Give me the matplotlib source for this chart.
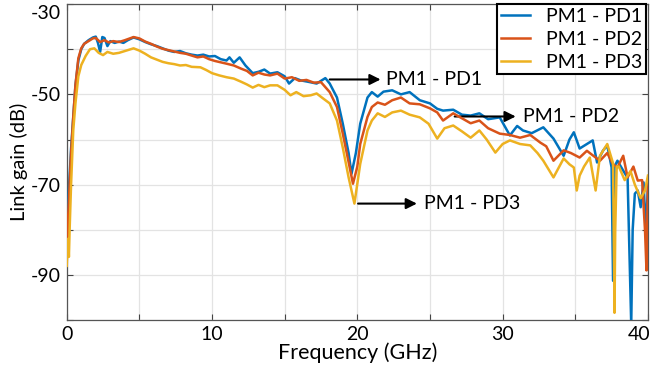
import matplotlib
matplotlib.use("Agg")
from matplotlib import pyplot as plt
from matplotlib.transforms import ScaledTranslation

plt.rcParams['font.family'] = ['Lato', 'DejaVu Sans']
plt.rcParams['axes.unicode_minus'] = False

# measured link gain, PM1 to each photodiode
freq_pd1 = [0.0, 0.05, 0.1, 0.2, 0.3, 0.45, 0.6, 0.8, 1.0, 1.2, 1.5, 1.8, 2.0, 2.15, 2.3, 2.45, 2.6, 2.8, 3.0, 3.3,
            3.6, 3.9, 4.2, 4.6, 5.0, 5.4, 5.8, 6.2, 6.6, 7.0, 7.4, 7.8, 8.2, 8.6, 9.0, 9.4, 9.8, 10.2, 10.6, 11.0,
            11.2, 11.5, 11.9, 12.3, 12.8, 13.2, 13.6, 14.0, 14.5, 15.0, 15.3, 15.7, 16.1, 16.6, 17.2, 17.8, 18.1, 18.6,
            19.0, 19.4, 19.6, 19.9, 20.2, 20.7, 21.0, 21.4, 21.8, 22.4, 23.0, 23.6, 24.3, 25.0, 25.5, 25.9, 26.6, 27.2,
            27.8, 28.4, 29.0, 29.8, 30.5, 31.0, 31.4, 32.0, 32.8, 33.5, 34.2, 34.6, 34.9, 35.3, 35.8, 36.2, 36.5, 36.9,
            37.2, 37.5, 37.6, 37.7, 37.9, 38.3, 38.6, 38.85, 38.95, 39.1, 39.3, 39.5, 39.7, 39.85, 40.0]
gain_pd1 = [-86, -82, -74, -68, -62, -55, -48, -42.5, -40.0, -38.8, -38.0, -37.4, -37.2, -38.6, -40.6, -37.3, -37.5, -39.3, -38.2, -38.6,
            -38.3, -38.6, -38.0, -37.4, -37.8, -38.4, -38.9, -39.3, -39.8, -40.3, -40.6, -40.4, -40.9, -41.2, -41.4, -41.2, -41.6, -41.5, -42.2, -42.5,
            -41.8, -43.0, -41.8, -43.6, -45.3, -45.0, -44.5, -45.4, -45.1, -46.0, -47.6, -46.4, -46.9, -47.2, -47.6, -46.4, -47.6, -50.7,
            -56.5, -63.0, -67.6, -63.0, -56.5, -50.7, -49.5, -50.5, -49.4, -49.1, -50.0, -49.5, -51.3, -52.0, -53.2, -53.6, -53.4, -54.5,
            -54.7, -54.2, -55.5, -55.1, -59.1, -57.0, -58.0, -58.6, -57.3, -59.8, -63.6, -60.0, -58.4, -62.0, -61.0, -60.2, -65.1, -62.5,
            -61.3, -66.2, -91.3, -66.0, -64.7, -66.9, -68.5, -101, -80, -72.0, -71.3, -75.0, -69.5, -80.0, -70.7]

freq_pd2 = [0.0, 0.05, 0.1, 0.2, 0.3, 0.45, 0.6, 0.8, 1.0, 1.2, 1.5, 1.8, 2.0, 2.3, 2.6, 2.9, 3.2, 3.6, 4.0, 4.6,
            5.0, 5.4, 5.8, 6.2, 6.6, 7.0, 7.4, 7.8, 8.2, 8.6, 9.0, 9.4, 9.8, 10.2, 10.6, 11.0, 11.5, 12.0, 12.4, 12.8,
            13.2, 13.6, 14.0, 14.5, 15.0, 15.5, 16.0, 16.5, 17.0, 17.5, 18.1, 18.6, 19.0, 19.4, 19.7, 20.0, 20.2, 20.7,
            21.0, 21.4, 21.9, 22.4, 23.0, 23.6, 24.3, 25.0, 25.5, 25.9, 26.6, 27.2, 27.8, 28.4, 29.0, 29.8, 30.5, 31.2,
            31.9, 32.6, 33.0, 33.5, 34.2, 34.7, 35.3, 35.8, 36.2, 36.7, 37.2, 37.6, 37.9, 38.3, 38.6, 39.0, 39.3, 39.6,
            39.8, 39.9, 40.0]
gain_pd2 = [-87, -83, -77, -70, -63, -55, -48, -42.0, -39.8, -38.8, -38.2, -37.6, -37.5, -38.4, -38.0, -38.5, -38.2, -38.4, -38.0, -37.3,
            -37.6, -38.3, -38.8, -39.4, -39.9, -40.2, -40.5, -40.8, -41.0, -41.4, -41.8, -41.6, -42.2, -42.6, -42.9, -43.2, -43.6, -44.3, -44.8, -45.8,
            -45.2, -45.6, -45.8, -45.4, -46.5, -46.2, -47.0, -46.8, -47.4, -47.3, -49.5, -52.8, -58.7, -65.0, -69.8, -66.0, -61.0, -55.0,
            -52.8, -51.8, -52.3, -51.3, -50.7, -52.0, -52.2, -53.1, -54.0, -55.8, -54.2, -55.3, -56.4, -55.8, -57.5, -58.7, -59.0, -59.6,
            -59.0, -60.7, -61.5, -64.7, -62.4, -63.0, -64.0, -62.5, -63.5, -64.7, -63.0, -65.5, -66.2, -63.6, -68.4, -66.0, -69.1, -69.0,
            -80.2, -89.0, -69.0]

freq_pd3 = [0.0, 0.05, 0.1, 0.15, 0.2, 0.3, 0.45, 0.6, 0.8, 1.0, 1.3, 1.6, 1.9, 2.2, 2.5, 2.8, 3.2, 3.6, 4.0, 4.6,
            5.0, 5.4, 5.8, 6.2, 6.6, 7.0, 7.4, 7.8, 8.2, 8.6, 9.2, 9.6, 10.0, 10.5, 11.0, 11.5, 12.0, 12.4, 12.8, 13.2,
            13.6, 14.0, 14.5, 15.0, 15.4, 15.8, 16.3, 16.8, 17.2, 17.6, 18.1, 18.6, 19.0, 19.4, 19.8, 20.2, 20.7, 21.0,
            21.4, 21.9, 22.4, 23.0, 23.6, 24.3, 24.9, 25.5, 26.0, 26.6, 27.2, 27.8, 28.4, 28.9, 29.5, 30.0, 30.5, 31.2,
            31.9, 32.4, 32.8, 33.5, 34.2, 34.6, 34.9, 35.1, 35.3, 35.6, 36.0, 36.4, 36.7, 37.2, 37.6, 37.7, 37.75, 37.85,
            38.0, 38.4, 38.8, 39.1, 39.5, 39.8, 40.0]
gain_pd3 = [-88, -84, -82, -86, -80, -70, -58, -52, -46, -43.5, -41.5, -40.0, -39.8, -40.8, -41.3, -40.6, -41.0, -40.8, -40.4, -39.8,
            -40.3, -41.0, -41.8, -42.3, -42.8, -43.1, -43.3, -43.6, -43.5, -43.9, -44.0, -44.6, -45.3, -45.8, -46.2, -46.5, -47.2, -47.8, -48.5, -47.9,
            -48.4, -48.0, -48.0, -49.0, -50.2, -49.5, -50.4, -50.2, -49.8, -50.8, -52.0, -55.8, -61.8, -68.4, -74.2, -65.4, -58.0, -55.8,
            -54.2, -55.0, -54.0, -53.6, -54.5, -55.1, -56.5, -59.8, -57.5, -56.9, -58.2, -59.6, -58.0, -60.0, -62.9, -61.0, -60.2, -61.0,
            -61.3, -63.0, -64.7, -68.4, -64.2, -65.5, -66.2, -71.3, -68.0, -66.0, -64.0, -71.3, -63.6, -61.0, -65.3, -98.4, -80.0, -66.0,
            -66.0, -69.0, -67.0, -70.0, -73.0, -71.3, -68.0]

labels = ["PM1 - PD1", "PM1 - PD2", "PM1 - PD3"]
colors = ["#0072BD", "#D95319", "#EDB120"]

fig = plt.figure(figsize=(6.56, 3.73), dpi=100)
ax = fig.add_axes([0.1017, 0.142, 0.886, 0.847])

ax.plot(freq_pd1, gain_pd1, color=colors[0], lw=1.8, label=labels[0], zorder=3)
ax.plot(freq_pd2, gain_pd2, color=colors[1], lw=1.8, label=labels[1], zorder=4)
ax.plot(freq_pd3, gain_pd3, color=colors[2], lw=1.8, label=labels[2], zorder=5)

ax.set_xlim(0, 40)
ax.set_ylim(-100, -30)
ax.set_xticks(range(0, 41, 5))
ax.set_xticklabels(["0", "", "10", "", "20", "", "30", "", "40"])
ax.set_yticks(range(-100, -29, 10))
ax.set_yticklabels(["", "-90", "", "-70", "", "-50", "", "-30"])
ax.grid(True, color="#e3e3e3", lw=0.9)
ax.set_axisbelow(True)
ax.tick_params(direction="in", top=True, right=True, length=4, width=0.8,
               color="#444444", labelsize=14, pad=4)
for sp in ax.spines.values():
    sp.set_color("#555555")
    sp.set_linewidth(0.9)

# keep the end labels inside the figure
top_lab = ax.get_yticklabels()[-1]
top_lab.set_transform(top_lab.get_transform() + ScaledTranslation(0, -8 / 100, fig.dpi_scale_trans))
end_lab = ax.get_xticklabels()[-1]
end_lab.set_transform(end_lab.get_transform() + ScaledTranslation(-9 / 100, 0, fig.dpi_scale_trans))

ax.set_xlabel("Frequency (GHz)", fontsize=15.5, labelpad=0)
ax.set_ylabel("Link gain (dB)", fontsize=14.5, labelpad=2)

# arrows pointing at each curve
arrow = dict(arrowstyle="-|>", color="black", lw=1.5, mutation_scale=16, shrinkA=0, shrinkB=0)
ax.annotate("", xy=(21.6, -46.7), xytext=(18.1, -46.7), arrowprops=arrow)
ax.text(22.0, -46.7, labels[0], fontsize=14, va="center", ha="left")
ax.annotate("", xy=(30.9, -54.9), xytext=(26.7, -54.9), arrowprops=arrow)
ax.text(31.4, -54.9, labels[1], fontsize=14, va="center", ha="left")
ax.annotate("", xy=(24.1, -74.2), xytext=(20.05, -74.2), arrowprops=arrow)
ax.text(24.6, -74.2, labels[2], fontsize=14, va="center", ha="left")

leg = ax.legend(loc="upper right", bbox_to_anchor=(646 / 656, 1 - 4 / 373),
                bbox_transform=fig.transFigure, fontsize=14, frameon=True,
                fancybox=False, borderaxespad=0, handlelength=1.5,
                labelspacing=0.3, borderpad=0.2, handletextpad=0.8)
leg.get_frame().set_edgecolor("black")
leg.get_frame().set_linewidth(1.5)
leg.get_frame().set_alpha(1)
for line in leg.get_lines():
    line.set_linewidth(1.8)

fig.savefig("out.png", dpi=100)
